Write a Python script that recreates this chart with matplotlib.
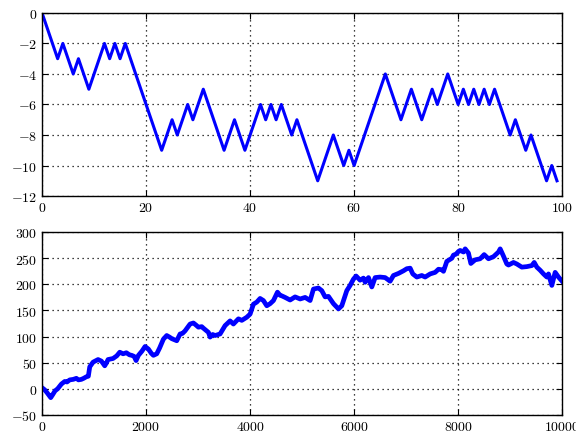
import matplotlib
matplotlib.use('agg')
import matplotlib.pyplot as plt
from matplotlib import rcParams
import numpy as np

rcParams.update({
    'font.family': 'serif',
    'font.serif': ['cmr10'],
    'mathtext.fontset': 'cm',
    'axes.formatter.use_mathtext': True,
    'font.size': 10,
    'xtick.direction': 'in',
    'ytick.direction': 'in',
    'xtick.top': True,
    'ytick.right': True,
})

# short walk: 100 unit steps
walk_short = [0, -1, -2, -3, -2, -3, -4, -3, -4, -5,
              -4, -3, -2, -3, -2, -3, -2, -3, -4, -5,
              -6, -7, -8, -9, -8, -7, -8, -7, -6, -7,
              -6, -5, -6, -7, -8, -9, -8, -7, -8, -9,
              -8, -7, -6, -7, -6, -7, -6, -7, -8, -7,
              -8, -9, -10, -11, -10, -9, -8, -9, -10, -9,
              -10, -9, -8, -7, -6, -5, -4, -5, -6, -7,
              -6, -5, -6, -7, -6, -5, -6, -5, -4, -5,
              -6, -5, -6, -5, -6, -5, -6, -5, -6, -7,
              -8, -7, -8, -9, -8, -9, -10, -11, -10, -11]

# long walk: 10000 steps, sampled
long_steps = [0, 50, 100, 167, 200, 250, 300, 372, 436, 480, 532, 600, 660, 700,
              756, 800, 853, 890, 917, 981, 1040, 1077, 1141, 1205, 1240, 1269,
              1365, 1436, 1494, 1558, 1621, 1680, 1724, 1770, 1808, 1853, 1920,
              1981, 2045, 2100, 2141, 2205, 2260, 2333, 2397, 2450, 2494, 2590,
              2654, 2700, 2750, 2846, 2910, 2960, 3006, 3070, 3103, 3199, 3231,
              3280, 3327, 3423, 3519, 3615, 3679, 3776, 3840, 3936, 4000, 4064,
              4128, 4192, 4256, 4321, 4385, 4449, 4526, 4577, 4609, 4673, 4769,
              4865, 4962, 5058, 5154, 5218, 5314, 5378, 5442, 5506, 5603, 5699,
              5763, 5859, 5923, 5987, 6038, 6115, 6179, 6212, 6276, 6340, 6404,
              6500, 6596, 6692, 6756, 6853, 6949, 7013, 7077, 7128, 7205, 7301,
              7365, 7462, 7558, 7622, 7686, 7718, 7782, 7878, 7910, 7960, 8006,
              8038, 8103, 8135, 8198, 8244, 8327, 8423, 8500, 8583, 8679, 8776,
              8808, 8872, 8936, 8968, 9064, 9128, 9224, 9321, 9417, 9462, 9513,
              9577, 9641, 9705, 9737, 9801, 9865, 9929, 9999]
long_values = [2, -2, -8, -17, -12, -4, 0, 9, 14, 13, 17, 18, 20, 17,
               18, 20, 23, 24, 42, 51, 54, 56, 53, 44, 50, 56,
               58, 63, 70, 67, 69, 65, 64, 62, 54, 64, 72,
               81, 76, 68, 64, 67, 78, 95, 102, 99, 96, 92,
               105, 106, 111, 124, 126, 122, 118, 119, 116, 108, 99,
               104, 102, 105, 121, 130, 124, 134, 131, 137, 143, 162,
               166, 173, 169, 159, 163, 169, 185, 179, 178, 175, 170,
               176, 172, 175, 169, 191, 193, 188, 176, 177, 163, 153,
               159, 188, 198, 210, 216, 208, 212, 204, 213, 195, 213,
               214, 213, 206, 217, 221, 226, 230, 231, 220, 214, 217,
               214, 220, 223, 229, 228, 225, 244, 250, 256, 258, 263,
               265, 262, 268, 260, 240, 247, 249, 257, 249, 253, 262,
               268, 254, 239, 237, 242, 239, 233, 234, 236, 242, 233,
               227, 220, 214, 220, 198, 223, 214, 206]

fig = plt.figure(figsize=(5.76, 4.35), dpi=100, facecolor='white')
ax1 = fig.add_axes([0.073, 0.547, 0.903, 0.421])
ax2 = fig.add_axes([0.073, 0.044, 0.903, 0.420])

ax1.plot(np.arange(len(walk_short)), walk_short, color='blue', lw=2.2)
ax1.set_xlim(0, 100)
ax1.set_ylim(-12, 0)
ax1.set_xticks(range(0, 101, 20))
ax1.set_yticks(range(-12, 1, 2))

ax2.plot(long_steps, long_values, color='blue', lw=3.4)
ax2.set_xlim(0, 10000)
ax2.set_ylim(-50, 300)
ax2.set_xticks(range(0, 10001, 2000))
ax2.set_yticks(range(-50, 301, 50))

for ax in (ax1, ax2):
    ax.grid(True, color='black', linestyle=(0, (1, 3)), linewidth=0.9)
    ax.tick_params(length=4, width=0.8)
    for sp in ax.spines.values():
        sp.set_linewidth(1.0)

fig.savefig('out.png', dpi=100, facecolor='white')
